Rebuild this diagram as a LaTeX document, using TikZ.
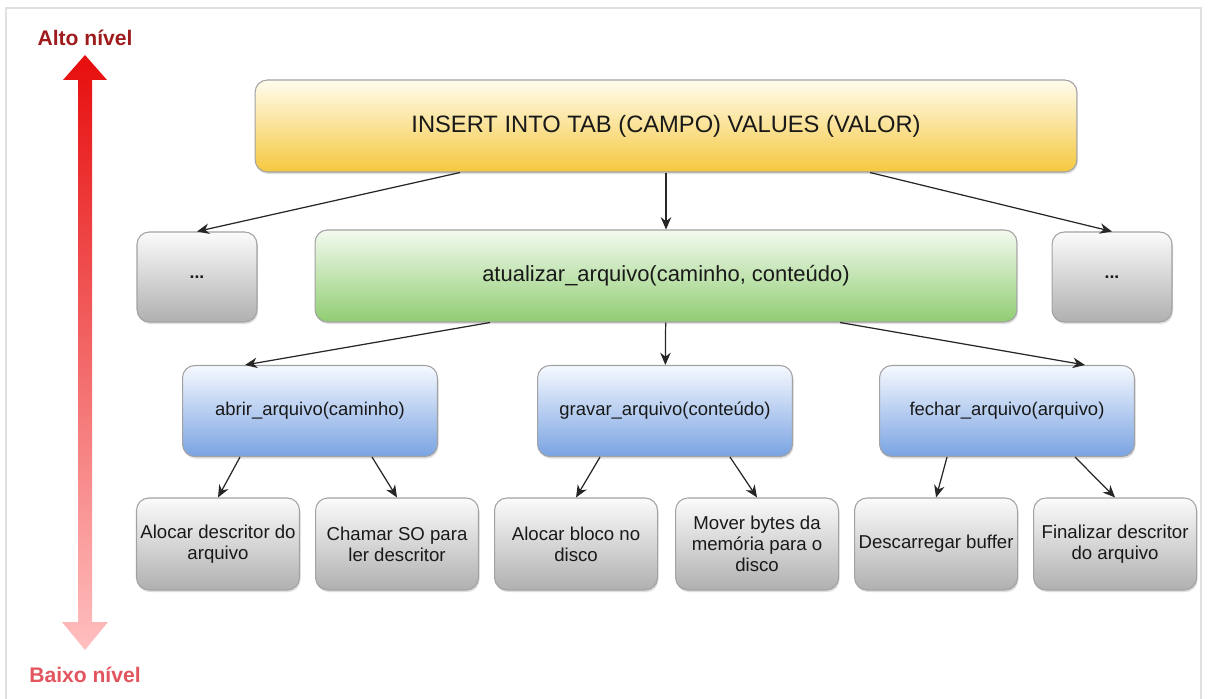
\documentclass[tikz,border=0pt]{standalone}
\usepackage{fontspec}
\setmainfont{Liberation Sans}
\usepackage{xcolor}
\usetikzlibrary{arrows.meta,positioning,shadows}

\definecolor{boxline}{HTML}{A2A2A2}
\definecolor{ylwtop}{HTML}{FFFCEE}
\definecolor{ylwmid}{HTML}{FBE394}
\definecolor{ylwbot}{HTML}{F5C83E}
\definecolor{grntop}{HTML}{F3FAEF}
\definecolor{grnmid}{HTML}{BDE2A5}
\definecolor{grnbot}{HTML}{90CD72}
\definecolor{blutop}{HTML}{F6F9FF}
\definecolor{blumid}{HTML}{BACFF1}
\definecolor{blubot}{HTML}{79A3E2}
\definecolor{grytop}{HTML}{FBFBFB}
\definecolor{grymid}{HTML}{DADADA}
\definecolor{grybot}{HTML}{B0B0B0}
\definecolor{hilvl}{HTML}{9E1B1E}
\definecolor{lolvl}{HTML}{E2545E}

\begin{document}
\begin{tikzpicture}[x=0.02cm, y=-0.02cm,
    box/.style={draw=boxline, line width=0.6pt, rounded corners=7pt, align=center, inner sep=2pt, text=black!90,
      drop shadow={opacity=0.25, shadow xshift=0.6pt, shadow yshift=-1.2pt}},
    sqlbox/.style={box, top color=ylwtop, middle color=ylwmid, bottom color=ylwbot, minimum width=16.44cm, minimum height=1.84cm, font=\fontsize{13.5}{16}\selectfont},
    funcbox/.style={box, top color=grntop, middle color=grnmid, bottom color=grnbot, minimum width=14.04cm, minimum height=1.84cm, font=\fontsize{12.5}{15}\selectfont},
    dotbox/.style={box, top color=grytop, middle color=grymid, bottom color=grybot, minimum width=2.4cm, minimum height=1.8cm, font=\normalsize\bfseries},
    callbox/.style={box, top color=blutop, middle color=blumid, bottom color=blubot, minimum width=5.1cm, minimum height=1.82cm, font=\fontsize{10.5}{12.6}\selectfont},
    stepbox/.style={box, top color=grytop, middle color=grymid, bottom color=grybot, minimum width=3.26cm, minimum height=1.84cm, font=\fontsize{10.6}{11.8}\selectfont},
    arr/.style={-{Stealth[length=7pt,width=6pt]}, line width=0.7pt, black!85}
  ]
    \useasboundingbox (0,0) rectangle (1209,699);
    \draw[black!12, line width=0.8pt] (6,699) -- (6,8) -- (1201,8) -- (1201,699);

    % level arrow
    \shade[top color=red!90!black!95, bottom color=red!25] (85,55) -- (107,80) -- (92,80) -- (92,622) -- (108,622)
      -- (85,650) -- (62,622) -- (78,622) -- (78,80) -- (63,80) -- cycle;
    \node[font=\fontsize{12}{14}\selectfont\bfseries, text=hilvl] (alto) at (85,38) {Alto nível};
    \node[font=\fontsize{12}{14}\selectfont\bfseries, text=lolvl] (baixo) at (85,675) {Baixo nível};

    \node[sqlbox] (sql) at (666,126) {INSERT INTO TAB (CAMPO) VALUES (VALOR)};
    \node[dotbox] (dotsl) at (197,277) {...};
    \node[funcbox] (atual) at (666,276) {atualizar\_arquivo(caminho, conteúdo)};
    \node[dotbox] (dotsr) at (1112,277) {...};
    \node[callbox] (abrir) at (310,411) {abrir\_arquivo(caminho)};
    \node[callbox] (gravar) at (665,411) {gravar\_arquivo(conteúdo)};
    \node[callbox] (fechar) at (1007,411) {fechar\_arquivo(arquivo)};
    \node[stepbox] (aloc) at (218,544) {Alocar descritor do\\arquivo};
    \node[stepbox, right=0.3cm of aloc] (chamar) {Chamar SO para\\ler descritor};
    \node[stepbox, right=0.3cm of chamar] (bloco) {Alocar bloco no\\disco};
    \node[stepbox, right=0.34cm of bloco] (mover) {Mover bytes da\\memória para o\\disco};
    \node[stepbox, right=0.3cm of mover] (descar) {Descarregar buffer};
    \node[stepbox, right=0.3cm of descar] (final) {Finalizar descritor\\do arquivo};

    \draw[arr] ([xshift=-4.12cm]sql.south) -- (dotsl.north);
    \draw[arr] (sql) -- (atual);
    \draw[arr] ([xshift=4.08cm]sql.south) -- (dotsr.north);
    \draw[arr] ([xshift=-3.52cm]atual.south) -- ([xshift=-1.3cm]abrir.north);
    \draw[arr] (atual) -- (gravar);
    \draw[arr] ([xshift=3.48cm]atual.south) -- ([xshift=1.56cm]fechar.north);
    \draw[arr] ([xshift=-1.4cm]abrir.south) -- (aloc.north);
    \draw[arr] ([xshift=1.24cm]abrir.south) -- (chamar.north);
    \draw[arr] ([xshift=-1.3cm]gravar.south) -- (bloco.north);
    \draw[arr] ([xshift=1.3cm]gravar.south) -- (mover.north);
    \draw[arr] ([xshift=-1.2cm]fechar.south) -- (descar.north);
    \draw[arr] ([xshift=1.36cm]fechar.south) -- (final.north);
\end{tikzpicture}
\end{document}
